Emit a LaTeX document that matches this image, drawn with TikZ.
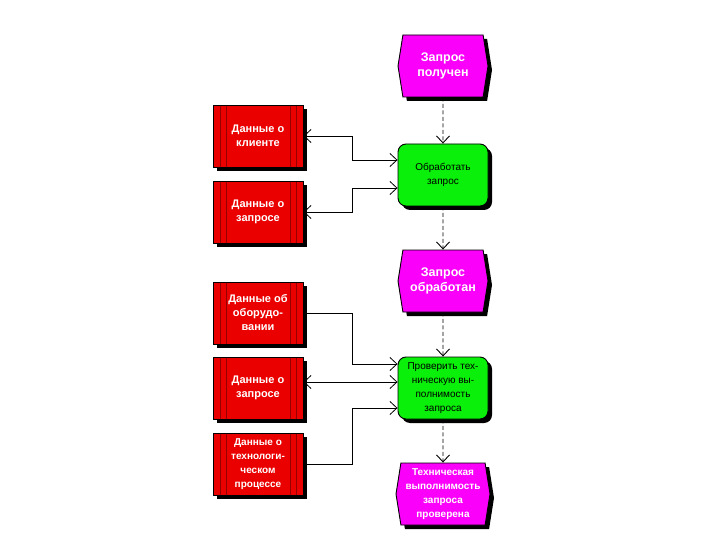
\documentclass[tikz,border=0pt]{standalone}
\usepackage{fontspec}
\setmainfont{Liberation Sans}
\usepackage{xcolor}
\usepackage{tikz}
\usetikzlibrary{arrows.meta,positioning,shapes.symbols,shadows}
\definecolor{evmag}{RGB}{250,0,250}
\definecolor{fngreen}{RGB}{10,240,10}
\definecolor{dtred}{RGB}{235,0,0}
\definecolor{dtline}{RGB}{150,0,0}
\tikzset{
  box/.style={draw=black, line width=0.9pt, align=center, inner sep=2pt,
              minimum width=90pt, minimum height=62pt,
              drop shadow={shadow xshift=4pt, shadow yshift=-4pt, fill=black, opacity=1}},
  event/.style={box, signal, signal to=west and east, signal pointer angle=162,
                fill=evmag, text=white, font=\fontsize{12.5}{15}\selectfont\bfseries},
  func/.style={box, rounded corners=8pt, fill=fngreen,
               font=\fontsize{10}{14}\selectfont},
  data/.style={box, fill=dtred, text=white, font=\fontsize{11}{14}\selectfont\bfseries,
               path picture={
                 \foreach \dx in {7pt,13pt}{
                   \draw[dtline, line width=0.6pt]
                     ([xshift=\dx]path picture bounding box.north west) --
                     ([xshift=\dx]path picture bounding box.south west);
                   \draw[dtline, line width=0.6pt]
                     ([xshift=-\dx]path picture bounding box.north east) --
                     ([xshift=-\dx]path picture bounding box.south east);
                 }}},
  flow/.style={-{Straight Barb[length=7pt, width=13pt]}, line width=0.9pt, dash pattern=on 4pt off 2.5pt},
  io/.style={{Straight Barb[length=7pt, width=13pt]}-{Straight Barb[length=7pt, width=13pt]}, line width=0.8pt},
  feed/.style={-{Straight Barb[length=7pt, width=13pt]}, line width=0.8pt},
}
\begin{document}
\begin{tikzpicture}[x=1pt, y=-1pt]
  \useasboundingbox[fill=white] (0,0) rectangle (720,540);
  % process chain
  \node[event] (gotReq) at (443,66) {Запрос\\получен};
  \node[func] (procReq) at (443,175) {Обработать\\запрос};
  \node[event] (doneReq) at (443,281) {Запрос\\обработан};
  \node[func] (checkReq) at (443,388) {Проверить тех-\\ническую вы-\\полнимость\\запроса};
  \node[event, minimum width=94pt, font=\fontsize{10}{14}\selectfont\bfseries]
    (checkedReq) at (443,494) {Техническая\\выполнимость\\запроса\\проверена};
  % data objects
  \node[data] (clientDat) at (258,136) {Данные о\\клиенте};
  \node[data] (reqDatA) at (258,212) {Данные о\\запросе};
  \node[data] (equipDat) at (258,313) {Данные об\\оборудо-\\вании};
  \node[data] (reqDatB) at (258,388) {Данные о\\запросе};
  \node[data, font=\fontsize{10}{14}\selectfont\bfseries] (techDat) at (258,464)
    {Данные о\\технологи-\\ческом\\процессе};
  % control flow
  \draw[flow] (gotReq) -- (procReq);
  \draw[flow] (procReq) -- (doneReq);
  \draw[flow] (doneReq) -- (checkReq);
  \draw[flow] (checkReq) -- (checkedReq);
  % data access
  \draw[io] (clientDat.east) -- ++(49,0) |- ([yshift=15pt]procReq.west);
  \draw[io] (reqDatA.east) -- ++(49,0) |- ([yshift=-13pt]procReq.west);
  \draw[feed] (equipDat.east) -- ++(49,0) |- ([yshift=24pt]checkReq.west);
  \draw[io] ([yshift=6pt]reqDatB.east) -- ([yshift=6pt]checkReq.west);
  \draw[feed] (techDat.east) -- ++(49,0) |- ([yshift=-20pt]checkReq.west);
\end{tikzpicture}
\end{document}
